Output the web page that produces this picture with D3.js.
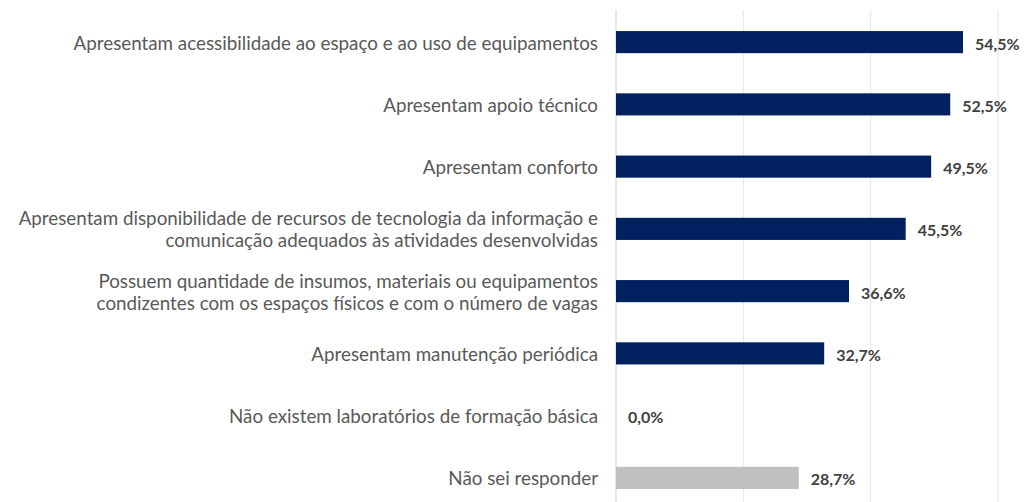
<!DOCTYPE html>
<html>
<head>
<meta charset="utf-8">
<script src="https://cdn.jsdelivr.net/npm/d3@7"></script>
<style>
  body { margin: 0; background: #fff; }
  svg { display: block; }
</style>
</head>
<body>
<div id="chart"></div>
<script>
// categories (each one is a list of label lines)
var categories = [
	['Apresentam acessibilidade ao espaço e ao uso de equipamentos'],
	['Apresentam apoio técnico'],
	['Apresentam conforto'],
	['Apresentam disponibilidade de recursos de tecnologia da informação e', 'comunicação adequados às atividades desenvolvidas'],
	['Possuem quantidade de insumos, materiais ou equipamentos', 'condizentes com os espaços físicos e com o número de vagas'],
	['Apresentam manutenção periódica'],
	['Não existem laboratórios de formação básica'],
	['Não sei responder']
];
var values = [54.5, 52.5, 49.5, 45.5, 36.6, 32.7, 0.0, 28.7];
var gridTicks = [0, 20, 40, 60];

var width = 1029, height = 502;

var svg = d3.select('#chart').append('svg')
	.attr('width', width)
	.attr('height', height);

var x = d3.scaleLinear()
	.domain([0, 60])
	.range([616, 998]);

var y = d3.scaleBand()
	.domain(d3.range(categories.length))
	.range([11, 509])
	.paddingInner(0.645)
	.paddingOuter(0.3225);

//gridlines
svg.append('g')
	.selectAll('line')
	.data(gridTicks)
	.enter()
	.append('line')
	.attr('x1', function(d){ return x(d); })
	.attr('x2', function(d){ return x(d); })
	.attr('y1', 10)
	.attr('y2', height)
	.attr('stroke', function(d){ return d === 0 ? '#d0d0d0' : '#e6e6e6'; })
	.attr('stroke-width', 1);

//bars
svg.append('g')
	.selectAll('rect')
	.data(values)
	.enter()
	.append('rect')
	.attr('x', x(0))
	.attr('y', function(d, i){ return y(i); })
	.attr('width', function(d){ return x(d) - x(0); })
	.attr('height', y.bandwidth())
	.attr('fill', function(d, i){ return i === values.length - 1 ? '#bfbfbf' : '#002060'; });

//value labels
svg.append('g')
	.selectAll('text')
	.data(values)
	.enter()
	.append('text')
	.attr('x', function(d){ return x(d) + 12; })
	.attr('y', function(d, i){ return y(i) + y.bandwidth() / 2 + 1; })
	.attr('dominant-baseline', 'central')
	.attr('font-family', 'Lato, "Open Sans", sans-serif')
	.attr('font-weight', 'bold')
	.attr('font-size', 16)
	.attr('fill', '#404040')
	.text(function(d){ return d.toFixed(1).replace('.', ',') + '%'; });

//category labels
var labels = svg.append('g')
	.selectAll('text')
	.data(categories)
	.enter()
	.append('text')
	.attr('text-anchor', 'end')
	.attr('font-family', 'Lato, "Open Sans", sans-serif')
	.attr('font-size', 18.8)
	.attr('fill', '#595959');

labels.each(function(lines, i){
	var cy = y(i) + y.bandwidth() / 2;
	var lineH = 22;
	var top = cy - (lines.length - 1) * lineH / 2;
	d3.select(this).selectAll('tspan')
		.data(lines)
		.enter()
		.append('tspan')
		.attr('x', 598)
		.attr('y', function(d, j){ return top + j * lineH; })
		.attr('dominant-baseline', 'central')
		.text(function(d){ return d; });
});
</script>
</body>
</html>
